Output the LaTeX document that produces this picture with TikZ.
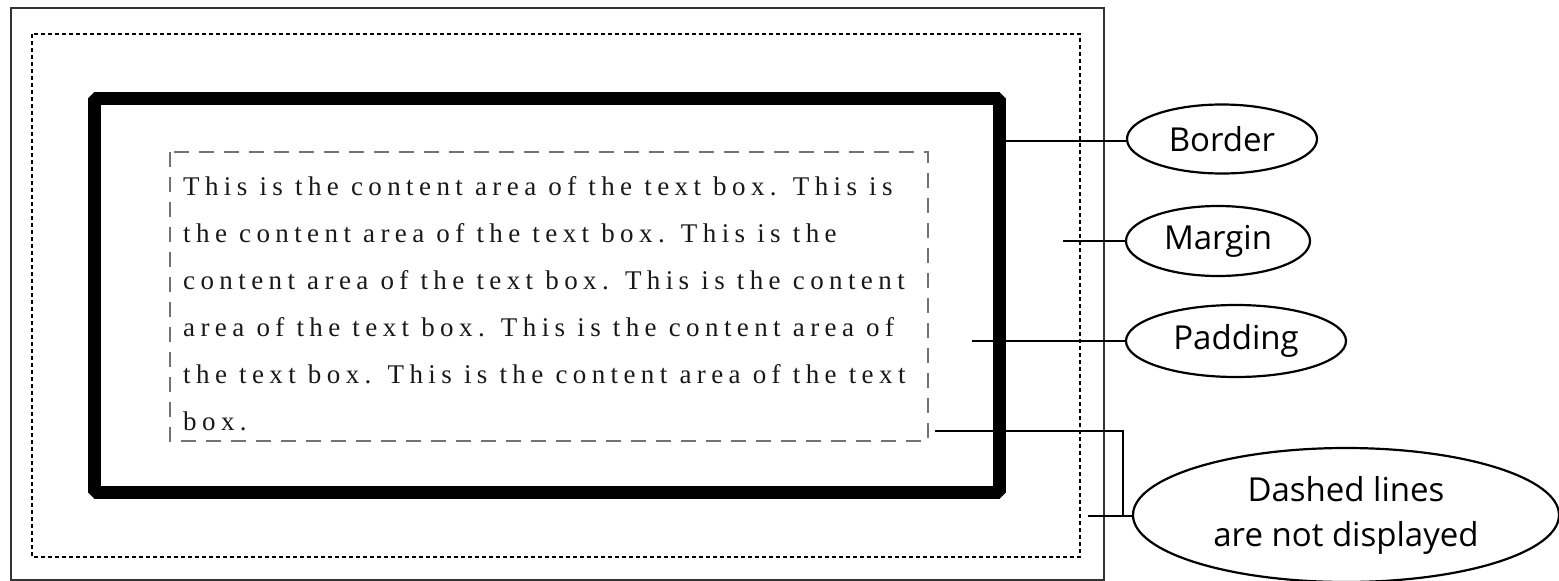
\documentclass[tikz,border=0pt]{standalone}
\usepackage{fontspec}
\setmainfont{Liberation Serif}
\newfontfamily\labelfont{Open Sans}
\newfontfamily\contentfont[LetterSpace=20]{Liberation Serif}
\usetikzlibrary{shapes.geometric}
\tikzset{
  labelell/.style={draw, ellipse, line width=2.2pt, inner sep=0pt, font=\labelfont\fontsize{33}{45}\selectfont, align=center},
  conn/.style={line width=2pt},
  textline/.style={anchor=base west, inner sep=0pt, text=black!90, font=\contentfont\fontsize{27}{32}\selectfont}
}
\begin{document}
\begin{tikzpicture}[x=1pt,y=-1pt]
\useasboundingbox (0,0) rectangle (1559,581);
% outer frame
\draw[line width=1.6pt, black!80] (11,8) rectangle (1104,580);
% margin (dotted)
\draw[line width=1.6pt, dash pattern=on 4pt off 3pt] (32,34) rectangle (1080,557);
% border
\draw[line width=13pt, line join=bevel] (94,98) rectangle (999,492);
% content box
\draw[line width=2pt, black!55, dash pattern=on 15pt off 10pt] (170,152) rectangle (928,441);
% text
\node[textline] (l1) at (183,195) {This is the content area of the text box. This is};
\node[textline] (l2) at (183,242) {the content area of the text box. This is the};
\node[textline] (l3) at (183,289) {content area of the text box. This is the content};
\node[textline] (l4) at (183,336) {area of the text box. This is the content area of};
\node[textline] (l5) at (183,383) {the text box. This is the content area of the text};
\node[textline] (l6) at (183,430) {box.};
% labels
\node[labelell, minimum width=190pt, minimum height=69pt] (border) at (1222,139) {Border};
\node[labelell, minimum width=184pt, minimum height=70pt] (margin) at (1218,241) {Margin};
\node[labelell, minimum width=220pt, minimum height=72pt] (padding) at (1236,341) {Padding};
\node[labelell, minimum width=426pt, minimum height=134pt] (dashed) at (1346,515) {Dashed lines\\are not displayed};
% connectors
\coordinate (bA) at (1005,141);
\coordinate (mA) at (1063,241);
\coordinate (pA) at (972,341);
\coordinate (dA) at (935,431);
\coordinate (dB) at (1088,516);
\coordinate (dJ) at (1123,516);
\draw[conn] (bA) -- (bA -| border.west);
\draw[conn] (mA) -- (mA -| margin.west);
\draw[conn] (pA) -- (pA -| padding.west);
\draw[conn] (dA) -| (dJ);
\draw[conn] (dB) -- (dB -| dashed.west);
\end{tikzpicture}
\end{document}
